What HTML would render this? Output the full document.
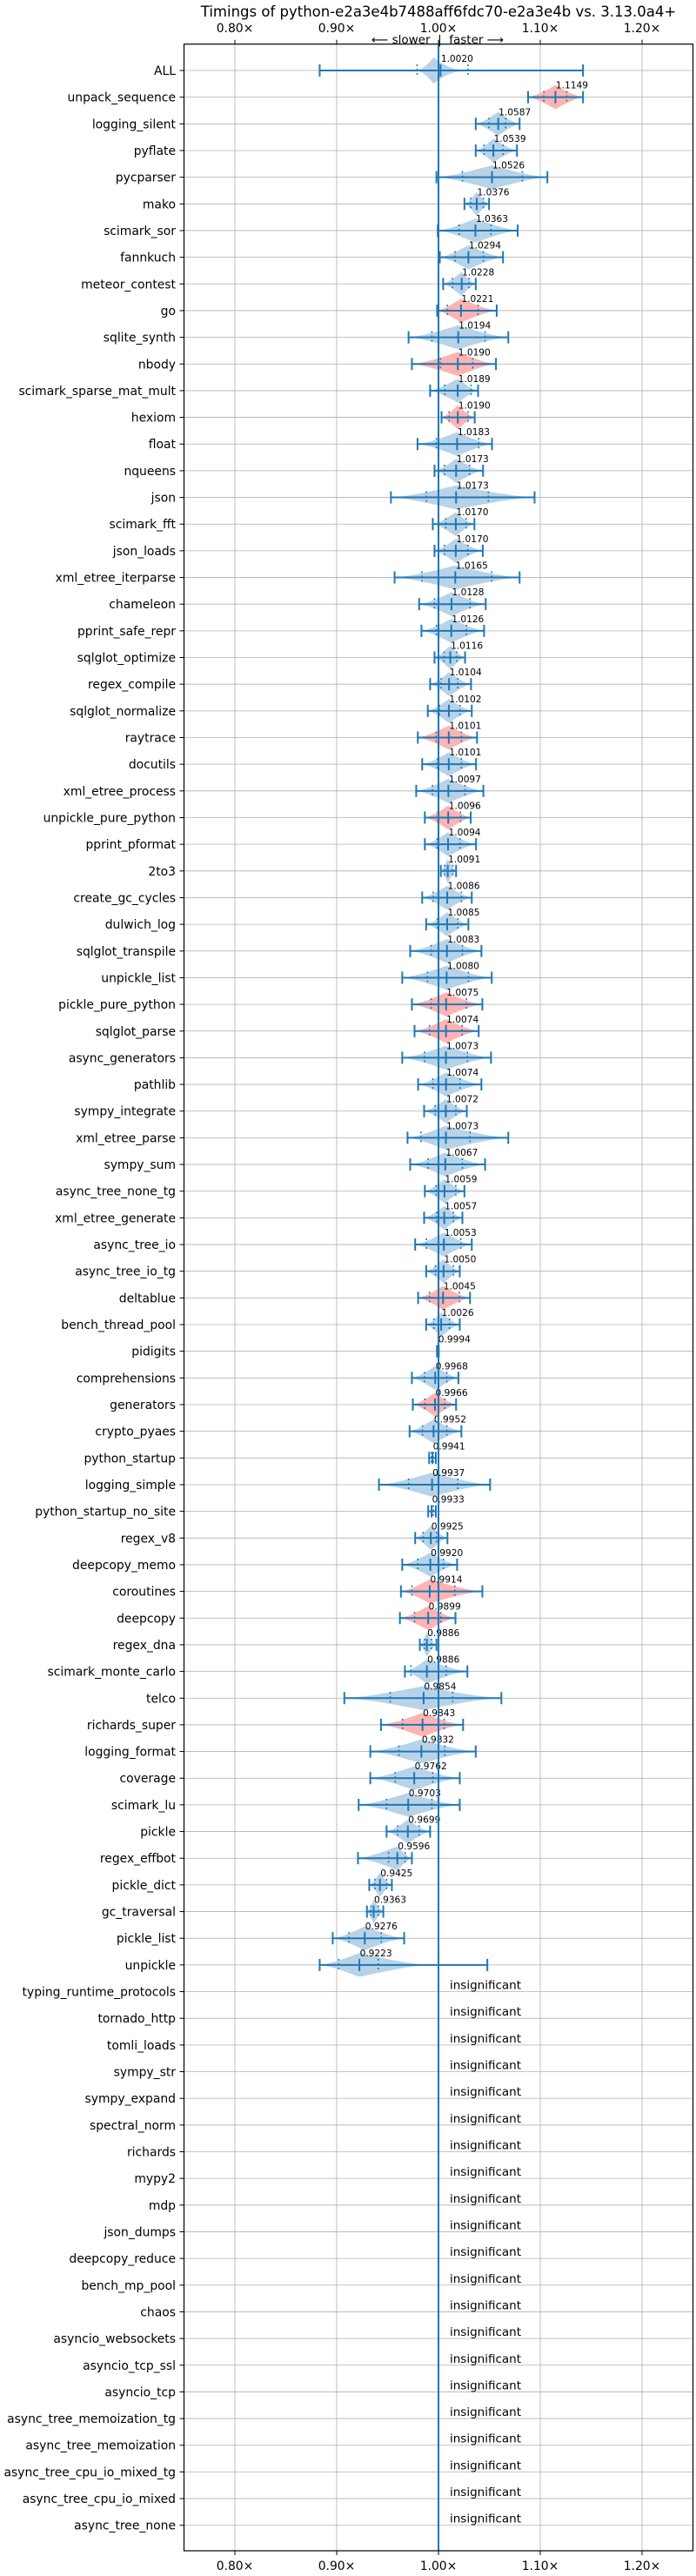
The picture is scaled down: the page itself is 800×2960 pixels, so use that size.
<!DOCTYPE html>
<html><head><meta charset="utf-8"><style>
html,body{margin:0;padding:0;background:#fff}
svg{display:block;font-family:"DejaVu Sans","Liberation Sans",sans-serif}
</style></head><body>
<svg id="chart" width="800" height="2960" viewBox="0 0 800 2960" xmlns="http://www.w3.org/2000/svg">
<text x="504" y="19" text-anchor="middle" font-size="16.5">Timings of python-e2a3e4b7488aff6fdc70-e2a3e4b vs. 3.13.0a4+</text>
<text x="503" y="50" text-anchor="middle" font-size="13.5" xml:space="preserve">⟵ slower  |  faster ⟶</text>
<g id="grid"></g><g id="marks"></g><g id="axes"></g>
</svg>
<script>
const names=["ALL","unpack_sequence","logging_silent","pyflate","pycparser","mako","scimark_sor","fannkuch","meteor_contest","go","sqlite_synth","nbody","scimark_sparse_mat_mult","hexiom","float","nqueens","json","scimark_fft","json_loads","xml_etree_iterparse","chameleon","pprint_safe_repr","sqlglot_optimize","regex_compile","sqlglot_normalize","raytrace","docutils","xml_etree_process","unpickle_pure_python","pprint_pformat","2to3","create_gc_cycles","dulwich_log","sqlglot_transpile","unpickle_list","pickle_pure_python","sqlglot_parse","async_generators","pathlib","sympy_integrate","xml_etree_parse","sympy_sum","async_tree_none_tg","xml_etree_generate","async_tree_io","async_tree_io_tg","deltablue","bench_thread_pool","pidigits","comprehensions","generators","crypto_pyaes","python_startup","logging_simple","python_startup_no_site","regex_v8","deepcopy_memo","coroutines","deepcopy","regex_dna","scimark_monte_carlo","telco","richards_super","logging_format","coverage","scimark_lu","pickle","regex_effbot","pickle_dict","gc_traversal","pickle_list","unpickle","typing_runtime_protocols","tornado_http","tomli_loads","sympy_str","sympy_expand","spectral_norm","richards","mypy2","mdp","json_dumps","deepcopy_reduce","bench_mp_pool","chaos","asyncio_websockets","asyncio_tcp_ssl","asyncio_tcp","async_tree_memoization_tg","async_tree_memoization","async_tree_cpu_io_mixed_tg","async_tree_cpu_io_mixed","async_tree_none"];
const medians=[1.0020,1.1149,1.0587,1.0539,1.0526,1.0376,1.0363,1.0294,1.0228,1.0221,1.0194,1.0190,1.0189,1.0190,1.0183,1.0173,1.0173,1.0170,1.0170,1.0165,1.0128,1.0126,1.0116,1.0104,1.0102,1.0101,1.0101,1.0097,1.0096,1.0094,1.0091,1.0086,1.0085,1.0083,1.0080,1.0075,1.0074,1.0073,1.0074,1.0072,1.0073,1.0067,1.0059,1.0057,1.0053,1.0050,1.0045,1.0026,0.9994,0.9968,0.9966,0.9952,0.9941,0.9937,0.9933,0.9925,0.9920,0.9914,0.9899,0.9886,0.9886,0.9854,0.9843,0.9832,0.9762,0.9703,0.9699,0.9596,0.9425,0.9363,0.9276,0.9223];
const mins=[0.8833,1.088,1.0366,1.0366,0.998,1.0255,0.9993,1.0013,1.0046,0.9987,0.9706,0.9739,0.9918,1.003,0.9794,0.9961,0.9533,0.9944,0.9961,0.9569,0.981,0.9833,0.9961,0.9918,0.9895,0.9797,0.984,0.9781,0.9866,0.9866,1.0023,0.984,0.9879,0.9722,0.9644,0.9739,0.9765,0.9644,0.98,0.9859,0.9696,0.9722,0.9866,0.9859,0.9771,0.9879,0.98,0.9879,0.9985,0.9739,0.9748,0.9716,0.9908,0.9415,0.9899,0.9771,0.9644,0.9631,0.9621,0.9817,0.967,0.9075,0.9435,0.933,0.933,0.9216,0.949,0.9209,0.932,0.9297,0.8961,0.8833];
const q1s=[0.979,1.1036,1.0497,1.0448,1.0235,1.0317,1.0203,1.0163,1.0137,1.0088,0.9935,1.002,1.0062,1.0105,0.998,1.0059,0.9882,1.0072,1.0059,0.9837,0.996,0.998,1.0056,1.0026,1.001,0.9977,0.999,0.9941,0.9993,0.9987,1.0062,0.9948,0.999,0.9928,0.9892,0.9928,0.9912,0.9863,0.9944,0.9967,0.9827,0.9899,0.9977,0.9984,0.9882,0.997,0.9912,0.9954,0.999,0.9863,0.9866,0.9843,0.993,0.9706,0.993,0.985,0.9797,0.9739,0.9765,0.9863,0.9729,0.9526,0.9647,0.9611,0.9575,0.949,0.9598,0.951,0.9376,0.9337,0.9121,0.902];
const q3s=[1.029,1.126,1.066,1.0634,1.0824,1.0441,1.0516,1.0441,1.03,1.0389,1.0458,1.0337,1.032,1.029,1.0395,1.0304,1.049,1.0271,1.0288,1.0523,1.031,1.0275,1.018,1.019,1.021,1.0225,1.0225,1.0261,1.0216,1.021,1.014,1.0225,1.019,1.0235,1.0294,1.0275,1.0232,1.0284,1.0212,1.017,1.031,1.0235,1.017,1.0147,1.0219,1.0147,1.0206,1.0108,0.9998,1.0082,1.0062,1.0082,0.995,1.019,0.995,0.998,1.0049,1.016,1.0023,0.9931,1.0075,1.014,1.0056,1.0062,0.9944,0.9935,0.981,0.9673,0.949,0.9408,0.9438,0.9408];
const maxs=[1.142,1.142,1.0797,1.0771,1.107,1.0497,1.0778,1.0634,1.0366,1.0572,1.0686,1.0565,1.0389,1.0356,1.0526,1.0438,1.0944,1.0353,1.0435,1.0797,1.0464,1.0448,1.0261,1.032,1.0327,1.0379,1.0369,1.0441,1.0317,1.0369,1.0173,1.0327,1.0294,1.0422,1.0523,1.0431,1.0395,1.0516,1.0422,1.0278,1.0686,1.0458,1.0255,1.0235,1.0327,1.0209,1.031,1.0209,1.0003,1.0196,1.0173,1.0225,0.9974,1.0507,0.9974,1.0088,1.0183,1.0431,1.0167,0.998,1.0284,1.0618,1.0242,1.0366,1.0209,1.0209,0.9918,0.9739,0.9542,0.9458,0.9663,1.048];
const violinOverrideRows=["ALL","unpickle"];
const violinLo=[0.975,0.8833];
const violinHi=[1.03,0.99];
const violinPeak=[0.995,0.9223];
const slowerRows=["unpack_sequence","go","nbody","hexiom","raytrace","unpickle_pure_python","pickle_pure_python","sqlglot_parse","deltablue","generators","coroutines","deepcopy","richards_super"];
const tinyRows=["pidigits","python_startup","python_startup_no_site"];
const xTicks=[0.8,0.9,1.0,1.1,1.2];
const xTickLabels=["0.80×","0.90×","1.00×","1.10×","1.20×"];

const NS="http://www.w3.org/2000/svg";
const L=211.5,R=796.5,T=50.7,B=2931;
function xs(v){return 504+(v-1)*1170;}
function ys(i){return 81+i*30.66;}
function mk(tag,attrs,parent){const e=document.createElementNS(NS,tag);for(const k in attrs)e.setAttribute(k,attrs[k]);parent.appendChild(e);return e;}
const grid=document.getElementById('grid'),marks=document.getElementById('marks'),axes=document.getElementById('axes');
const BLUE="#1f77b4";
xTicks.forEach((t,i)=>{
  const g=mk('line',{x1:xs(t),x2:xs(t),y1:T,y2:B,stroke:"#b0b0b0","stroke-width":0.8},grid);
  
  
});
names.forEach((n,i)=>{
  const g=mk('line',{x1:L,x2:R,y1:ys(i),y2:ys(i),stroke:"#b0b0b0","stroke-width":0.8},grid);
  
  
});
names.forEach((n,i)=>{
  const y=ys(i);
  if(i>=medians.length){
    const t=mk('text',{x:517,y:y-3,"font-size":13.5},marks);
    t.textContent="insignificant";
    
    
    return;
  }
  const med=medians[i],mn=mins[i],mx=maxs[i];
  const slow=slowerRows.indexOf(n)>=0, tiny=tinyRows.indexOf(n)>=0;
  const grp=mk('g',{},marks);
  
  
  if(!tiny){
    let lo=mn,hi=mx,pk=med;
    const oi=violinOverrideRows.indexOf(n);
    if(oi>=0){lo=violinLo[oi];hi=violinHi[oi];pk=violinPeak[oi];}
    const h=n==="ALL"?15:13.5;
    let top=[],bot=[];
    const N=48;
    for(let k=0;k<=N;k++){
      const v=lo+(hi-lo)*k/N;
      let tt=v<pk?(pk-v)/Math.max(pk-lo,1e-6):(v-pk)/Math.max(hi-pk,1e-6);
      tt=Math.min(1,Math.max(0,tt));
      const e=n==="ALL"?2.2:1.3;
      const w=h*Math.pow(1-tt,e)*(1-0.15*tt*tt)+ (1-tt)*0.3;
      top.push(xs(v).toFixed(1)+","+(y-w).toFixed(1));
      bot.unshift(xs(v).toFixed(1)+","+(y+w).toFixed(1));
    }
    const p=mk('path',{d:"M"+top.join(" L")+" L"+bot.join(" L")+"Z",fill:slow?"#ffb3b3":"#b8d3e8"},grp);
    
    
  }
  const ln=mk('line',{x1:xs(mn),x2:xs(mx),y1:y,y2:y,stroke:BLUE,"stroke-width":2},grp);
  
  
  [mn,mx,med].forEach(v=>{
    const c=mk('line',{x1:xs(v),x2:xs(v),y1:y-7,y2:y+7,stroke:BLUE,"stroke-width":2},grp);
    
    
  });
  [q1s[i],q3s[i]].forEach(v=>{
    const c=mk('line',{x1:xs(v),x2:xs(v),y1:y-7,y2:y+7,stroke:BLUE,"stroke-width":1.6,"stroke-dasharray":"2,3"},grp);
    
    
  });
  const t=mk('text',{x:xs(med)+0.5,y:y-10,"font-size":10.6},grp);
  t.textContent=med.toFixed(4);
  
  
});
const bl=mk('line',{x1:xs(1),x2:xs(1),y1:T,y2:B,stroke:BLUE,"stroke-width":2},marks);


const fr=mk('rect',{x:L,y:T,width:R-L,height:B-T,fill:"none",stroke:"#000","stroke-width":1.2},axes);


xTicks.forEach((t,i)=>{
  const x=xs(t);
  mk('line',{x1:x,x2:x,y1:T,y2:T-5,stroke:"#000","stroke-width":1},axes);
  mk('line',{x1:x,x2:x,y1:B,y2:B+5,stroke:"#000","stroke-width":1},axes);
  const a=mk('text',{x:x,y:37,"text-anchor":"middle","font-size":13.9},axes);
  a.textContent=xTickLabels[i];
  
  
  const b=mk('text',{x:x,y:2953,"text-anchor":"middle","font-size":13.9},axes);
  b.textContent=xTickLabels[i];
  
  
});
names.forEach((n,i)=>{
  const y=ys(i);
  mk('line',{x1:L,x2:L-5,y1:y,y2:y,stroke:"#000","stroke-width":1},axes);
  const t=mk('text',{x:202,y:y+5,"text-anchor":"end","font-size":13.9},axes);
  t.textContent=n;
  
  
});
</script>
</body></html>
